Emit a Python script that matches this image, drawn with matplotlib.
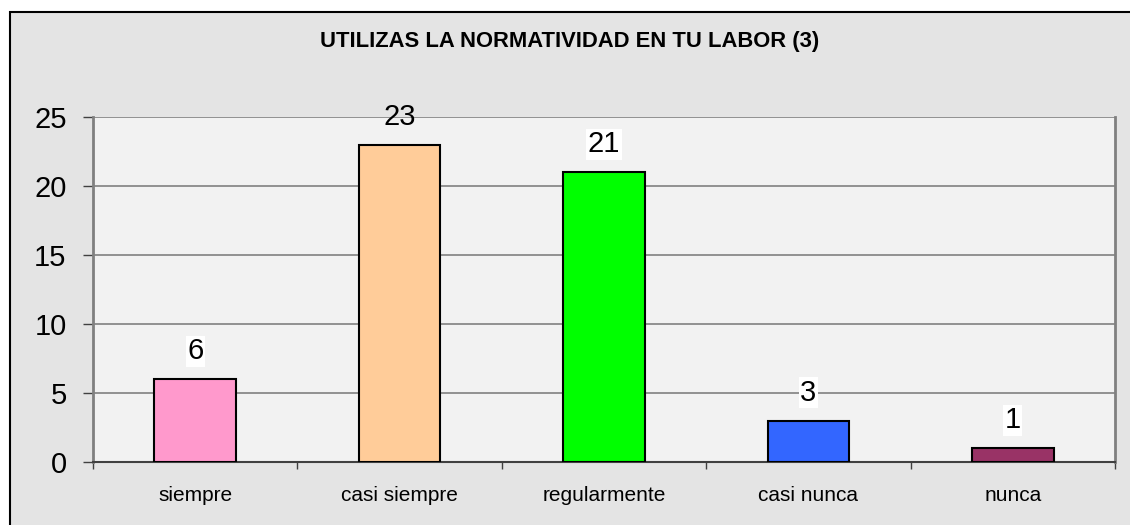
import matplotlib.pyplot as plt
import matplotlib.patches as patches
import numpy as np

categories = ["siempre", "casi siempre", "regularmente", "casi nunca", "nunca"]
values = [6, 23, 21, 3, 1]
bar_colors = ["#FF99CC", "#FFCC99", "#00FF00", "#3366FF", "#993366"]
y_ticks = [0, 5, 10, 15, 20, 25]
title = "UTILIZAS LA NORMATIVIDAD EN TU LABOR (3)"

plt.rcParams['font.family'] = ['Liberation Sans', 'DejaVu Sans']

fig = plt.figure(figsize=(11.3, 5.25), dpi=100)
fig.patch.set_facecolor('white')

# outer chart frame (runs off the right and bottom edges)
frame = patches.Rectangle((10 / 1130, -0.05), 1.1, 0.977 + 0.05,
                          transform=fig.transFigure, facecolor='#E4E4E4',
                          edgecolor='black', linewidth=1.5, zorder=-5)
fig.patches.append(frame)

ax = fig.add_axes([93 / 1130, 1 - 462 / 525, (1115 - 93) / 1130, (462 - 117) / 525])
ax.set_zorder(2)
ax.set_facecolor('#F2F2F2')

x = np.arange(len(categories))
ax.bar(x, values, width=0.4, color=bar_colors, edgecolor='black', linewidth=1.5, zorder=3)

ax.set_xlim(-0.5, len(categories) - 0.5)
ax.set_ylim(0, 25)
ax.set_yticks(y_ticks)
ax.yaxis.grid(True, color='#808080', linewidth=1.2, zorder=1)
ax.set_axisbelow(True)

ax.set_xticks(x)
ax.set_xticklabels(categories, fontsize=15)
ax.set_xticks(np.arange(len(categories) + 1) - 0.5, minor=True)
ax.tick_params(axis='x', which='major', length=0, pad=17)
ax.tick_params(axis='x', which='minor', length=5, width=1, color='#404040')
ax.tick_params(axis='y', labelsize=21, length=7, width=1, color='#404040', pad=12)

ax.spines['top'].set_visible(False)
ax.spines['right'].set_color('#808080')
ax.spines['right'].set_linewidth(2)
ax.spines['left'].set_color('#808080')
ax.spines['left'].set_linewidth(2)
ax.spines['bottom'].set_color('#404040')
ax.spines['bottom'].set_linewidth(1.5)

for xi, v in zip(x, values):
    box = None
    if v < 22:
        box = dict(facecolor='white', edgecolor='none', pad=1)
    ax.annotate(str(v), (xi, v), xytext=(0, 10), textcoords='offset points',
                ha='center', va='bottom', fontsize=21, bbox=box,
                annotation_clip=False, zorder=4)

fig.text(570 / 1130, 1 - 42 / 525, title, ha='center', va='center',
         fontsize=15.8, fontweight='bold')

plt.savefig("out.png", dpi=100)
